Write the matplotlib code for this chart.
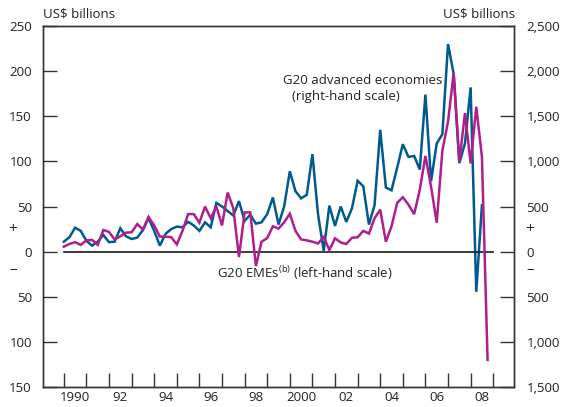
import matplotlib
matplotlib.use("Agg")
import matplotlib.pyplot as plt
import numpy as np

plt.rcParams['font.family'] = ['Open Sans', 'DejaVu Sans']
plt.rcParams['mathtext.fontset'] = 'custom'
plt.rcParams['mathtext.rm'] = 'Open Sans'

# G20 advanced economies, US$ billions (right-hand scale), quarterly from 1990 Q1
advanced = [110, 160, 265, 230, 120, 66, 110, 185, 105, 110, 260, 170,
            140, 155, 240, 370, 230, 66, 196, 250, 277, 270, 330, 290,
            230, 325, 270, 540, 500, 450, 400, 560, 340, 410, 310, 325,
            416, 600, 300, 500, 890, 670, 590, 630, 1080, 410, 10, 510,
            285, 500, 330, 480, 785, 725, 300, 515, 1350, 710, 680, 930,
            1190, 1050, 1060, 910, 1740, 780, 1200, 1300, 2300, 1970, 980, 1200,
            1820, -445, 515]
# G20 EMEs, US$ billions (left-hand scale), quarterly from 1990 Q1
emes = [5.5, 8.5, 10.5, 7.5, 12.5, 13, 7.5, 24, 21.8, 13.5, 17, 21,
        21.5, 30.5, 24.5, 38.5, 29, 16.6, 16.6, 16, 8, 23, 41.6, 41.6,
        32, 50, 37, 50, 29, 65.5, 48, -6, 43.5, 43.5, -16, 11,
        15, 28, 25.5, 32.5, 42, 23, 13.5, 12.5, 11, 9, 16.3, 1.8,
        14.8, 10.2, 8.5, 15.3, 15.9, 23, 20, 37, 46.5, 11, 28, 54,
        60.3, 52, 41.5, 68.5, 106, 72, 32, 112, 144, 198, 99.5, 153.5,
        97.7, 160.5, 105, -120]

start_year = 1990
label_years = list(range(1990, 2009, 2))
label_texts = ['1990', '92', '94', '96', '98', '2000', '02', '04', '06', '08']
left_ticks = [-150, -100, -50, 0, 50, 100, 150, 200, 250]

blue = '#005a8f'
magenta = '#b01e8d'
grey = '#333333'

t_adv = start_year + np.arange(len(advanced)) / 4
t_eme = start_year + np.arange(len(emes)) / 4

fig = plt.figure(figsize=(5.63, 4.07), dpi=100)
ax = fig.add_axes([0.0764, 0.0491, 0.8366, 0.887])
ax2 = ax.twinx()

ax.set_xlim(1989.08, 2009.92)
ax.set_ylim(-150, 250)
ax2.set_ylim(-1500, 2500)

ax.axhline(0, xmin=(1990 - 1989.08) / 20.84, xmax=(2009 - 1989.08) / 20.84,
           color='#1a1a1a', lw=1.2, zorder=1)

ax2.plot(t_adv, advanced, color=blue, lw=1.8, zorder=3, solid_joinstyle='miter')
ax.plot(t_eme, emes, color=magenta, lw=1.8, zorder=4, solid_joinstyle='miter')
ax.set_zorder(ax2.get_zorder() + 1)
ax.patch.set_visible(False)

for a in (ax, ax2):
    for s in a.spines.values():
        s.set_color(grey)
        s.set_linewidth(1.0)

ax.set_yticks(left_ticks)
ax.set_yticklabels([f'{abs(v)}' for v in left_ticks])
ax2.set_yticks([v * 10 for v in left_ticks])
ax2.set_yticklabels([f'{abs(v * 10):,}' for v in left_ticks])
ax.tick_params(axis='y', direction='in', length=10, width=1.0, color=grey,
               labelsize=9.5, labelcolor='#222222', pad=8)
ax2.tick_params(axis='y', direction='in', length=10, width=1.0, color=grey,
                labelsize=9.5, labelcolor='#222222', pad=9)

ax.set_xticks(list(range(1990, 2010)))
ax.set_xticklabels([])
ax.set_xticks([y + 0.5 for y in label_years], minor=True)
ax.set_xticklabels(label_texts, minor=True)
ax.tick_params(axis='x', which='major', direction='in', length=10, width=1.0, color=grey)
ax.tick_params(axis='x', which='minor', length=0, labelsize=9.5,
               labelcolor='#222222', pad=3)

fig.text(43 / 563, 1 - 14 / 407, 'US$ billions', ha='left', va='center',
         fontsize=9.5, color='#222222')
fig.text(515 / 563, 1 - 14 / 407, 'US$ billions', ha='right', va='center',
         fontsize=9.5, color='#222222')
for xf in (13 / 563, 530 / 563):
    fig.text(xf, 1 - 229 / 407, '+', ha='center', va='center', fontsize=11, color='#222222')
    fig.text(xf, 1 - 270 / 407, '–', ha='center', va='center', fontsize=11, color='#222222')

ax.text(1999.70, 190, 'G20 advanced economies', ha='left', va='center',
        fontsize=9.5, color='#222222')
ax.text(2000.08, 171.5, '(right-hand scale)', ha='left', va='center',
        fontsize=9.5, color='#222222')
ax.text(2004.57, -23.8, 'G20 EMEs$^{\\mathrm{(b)}}$ (left-hand scale)', ha='right',
        va='center', fontsize=9.5, color='#222222')

fig.savefig('out.png', dpi=100)
